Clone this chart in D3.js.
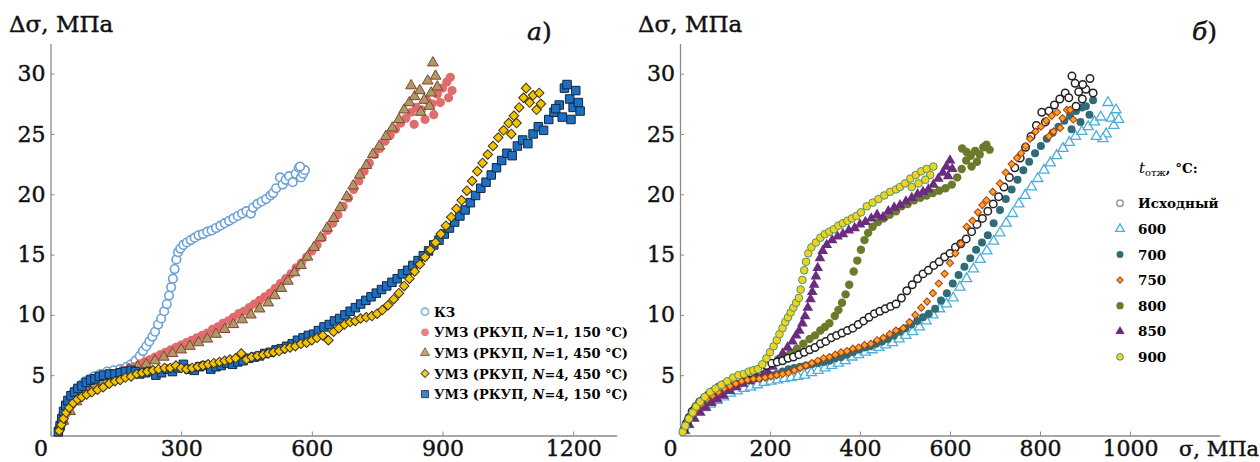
<!DOCTYPE html>
<html>
<head>
<meta charset="utf-8">
<script src="https://cdn.jsdelivr.net/npm/d3@7"></script>
<style>
  body { margin: 0; background: #fff; }
  svg { display: block; font-family: "DejaVu Serif", serif; }
  .heavy { stroke: #111; stroke-width: 0.45px; fill: #111; }
</style>
</head>
<body>
<svg id="chart" width="1260" height="462"></svg>
<script>
// ---- panel a) data: [sigma, delta sigma] ----
var kz = [[20,0.6],[25,1.2],[30,1.8],[35,2.3],[40,2.7],[45,3.1],[50,3.4],[60,3.8],[70,4.2],[80,4.5],[90,4.7],[100,4.9],[115,5.1],[130,5.3],[145,5.4],[160,5.5],[175,5.7],[185,5.9],[195,6.2],[205,6.6],[212,7.0],[220,7.4],[227,7.8],[234,8.2],[240,8.6],[247,9.2],[254,9.7],[261,10.3],[267,10.9],[272,11.6],[277,12.3],[281,13.0],[285,13.8],[289,14.6],[293,15.2],[298,15.5],[305,15.8],[313,16.0],[322,16.2],[331,16.4],[340,16.6],[350,16.7],[360,16.9],[370,17.0],[380,17.2],[390,17.4],[400,17.6],[410,17.8],[420,18.0],[430,18.2],[440,18.4],[450,18.6],[460,18.4],[465,18.9],[475,19.2],[485,19.4],[495,19.6],[505,19.9],[511,20.1],[518,20.5],[527,21.4],[533,20.8],[540,21.2],[548,21.5],[556,21.0],[563,21.7],[570,22.2],[575,21.4],[580,21.7],[584,22.0],[573,22.3]];
var umz1_150 = [[20,0.4],[25,0.9],[30,1.3],[36,1.8],[43,2.2],[50,2.6],[58,3.0],[67,3.3],[76,3.6],[86,3.9],[96,4.2],[107,4.4],[118,4.6],[130,4.8],[142,5.0],[155,5.2],[168,5.4],[180,5.5],[192,5.7],[204,5.9],[216,6.1],[228,6.3],[240,6.5],[252,6.7],[264,6.9],[276,7.1],[288,7.3],[300,7.5],[312,7.7],[324,7.9],[336,8.1],[348,8.3],[360,8.5],[372,8.8],[384,9.0],[396,9.3],[408,9.5],[420,9.8],[432,10.1],[444,10.3],[456,10.6],[468,10.9],[480,11.2],[492,11.5],[504,11.8],[516,12.2],[528,12.6],[540,13.0],[552,13.4],[564,13.9],[576,14.3],[588,14.8],[600,15.3],[612,15.8],[624,16.4],[636,17.0],[648,17.6],[660,18.3],[672,19.0],[684,19.7],[696,20.4],[708,21.1],[720,21.9],[732,22.6],[744,23.3],[756,23.8],[768,24.4],[780,24.9],[792,25.4],[804,25.9],[816,26.3],[828,26.8],[840,27.2],[852,27.0],[864,27.8],[876,27.5],[888,28.3],[900,28.8],[910,29.3],[918,29.7],[922,28.6],[914,28.0],[895,27.6],[880,26.6],[860,26.2],[835,25.8]];
var umz1_450 = [[30,1.2],[45,2.0],[60,2.8],[80,3.5],[100,4.1],[120,4.5],[140,4.9],[160,5.2],[180,5.5],[200,5.7],[220,5.9],[240,6.2],[260,6.5],[280,6.8],[300,7.1],[320,7.4],[340,7.7],[360,8.0],[380,8.4],[400,8.8],[420,9.2],[440,9.6],[460,10.0],[480,10.5],[500,11.0],[515,11.6],[530,12.2],[545,12.8],[560,13.5],[575,14.1],[590,14.8],[605,15.6],[620,16.4],[635,17.2],[650,18.0],[665,18.9],[680,19.8],[695,20.7],[710,21.6],[725,22.4],[740,23.3],[755,24.0],[770,24.8],[785,25.5],[800,26.2],[812,27.0],[824,27.6],[828,29.0],[836,28.1],[848,28.6],[858,27.8],[866,29.4],[874,28.4],[878,30.9],[884,29.8],[888,28.9],[870,27.3],[850,26.8]];
var umz4_450 = [[20,0.4],[25,0.9],[30,1.4],[36,1.9],[43,2.3],[52,2.7],[62,3.0],[72,3.2],[83,3.4],[95,3.6],[108,3.8],[121,4.0],[135,4.3],[148,4.5],[160,4.6],[172,4.8],[185,4.9],[198,5.1],[210,5.2],[222,5.3],[235,5.4],[248,5.5],[262,5.6],[275,5.6],[288,5.8],[300,5.6],[312,5.5],[325,5.6],[338,5.7],[350,5.8],[362,5.9],[375,6.0],[388,6.1],[400,6.2],[412,6.3],[425,6.4],[438,6.8],[450,6.3],[462,6.5],[475,6.6],[488,6.7],[500,6.8],[512,6.9],[525,7.0],[538,7.2],[550,7.3],[562,7.4],[575,7.6],[588,7.7],[600,7.9],[612,8.1],[625,8.3],[638,7.9],[650,8.6],[662,8.9],[675,9.2],[688,9.4],[700,9.5],[712,9.7],[725,9.8],[738,9.9],[750,10.1],[762,10.4],[775,10.8],[788,11.3],[800,11.8],[812,12.4],[824,13.0],[836,13.6],[848,14.2],[860,14.8],[872,15.4],[884,16.0],[896,16.7],[908,17.4],[920,18.1],[932,18.8],[944,19.5],[956,20.3],[968,21.1],[980,21.9],[992,22.6],[1004,23.3],[1016,24.0],[1028,24.7],[1040,25.3],[1052,25.9],[1064,26.5],[1076,27.2],[1086,28.0],[1092,28.8],[1100,27.6],[1108,28.2],[1116,27.0],[1122,28.4],[1126,27.5],[1070,25.9],[1058,25.0]];
var umz4_150 = [[18,0.3],[22,0.8],[26,1.4],[30,2.0],[35,2.5],[40,2.9],[47,3.3],[55,3.6],[63,3.9],[72,4.1],[82,4.4],[92,4.6],[102,4.7],[112,4.9],[122,5.0],[135,5.1],[148,5.1],[160,5.2],[172,5.3],[185,5.4],[195,5.3],[205,5.1],[218,5.2],[230,5.3],[242,5.0],[255,5.2],[268,5.5],[280,5.3],[292,5.6],[305,5.9],[318,5.5],[330,5.4],[342,5.7],[355,5.8],[368,5.5],[380,5.7],[392,5.8],[405,6.0],[418,5.9],[430,6.1],[442,6.2],[455,6.4],[468,6.5],[480,6.6],[492,6.8],[505,6.9],[518,7.1],[530,7.2],[542,7.4],[555,7.6],[567,7.9],[580,8.1],[592,8.3],[604,8.4],[615,8.7],[628,9.0],[640,9.2],[652,9.5],[664,9.7],[676,10.0],[688,10.3],[700,10.6],[712,10.9],[724,11.2],[736,11.5],[748,11.8],[760,12.1],[772,12.4],[784,12.7],[796,13.0],[808,13.4],[820,13.7],[832,14.1],[844,14.5],[856,14.9],[868,15.3],[880,15.8],[892,16.2],[904,16.7],[916,17.2],[928,17.7],[940,18.2],[952,18.7],[964,19.3],[976,19.9],[988,20.5],[1000,21.0],[1012,21.6],[1024,22.2],[1036,22.8],[1048,23.4],[1060,23.2],[1072,24.0],[1084,24.5],[1096,24.2],[1108,25.0],[1120,25.6],[1132,25.3],[1144,26.2],[1156,26.8],[1168,27.4],[1180,28.8],[1186,29.1],[1192,27.9],[1200,27.2],[1206,28.6],[1212,27.6],[1216,26.9],[1175,26.4],[1160,27.1],[1195,26.2]];

// ---- panel б) data ----
var ref = [[8,0.4],[14,1.0],[20,1.5],[27,2.0],[35,2.4],[44,2.8],[54,3.1],[64,3.4],[75,3.7],[86,4.0],[97,4.2],[108,4.4],[120,4.6],[132,4.8],[144,5.0],[156,5.2],[168,5.4],[180,5.6],[192,5.8],[204,6.0],[216,6.1],[228,6.2],[240,6.4],[252,6.5],[264,6.7],[276,6.9],[288,7.1],[300,7.3],[312,7.6],[324,7.8],[336,8.1],[348,8.3],[360,8.5],[372,8.7],[384,8.9],[396,9.2],[408,9.5],[420,9.8],[432,10.1],[444,10.3],[456,10.5],[468,10.7],[480,10.9],[492,11.4],[504,12.0],[516,12.5],[528,13.0],[540,13.4],[552,13.7],[564,14.1],[576,14.4],[588,14.8],[600,15.1],[612,15.6],[624,15.9],[636,16.3],[648,16.9],[660,17.5],[672,18.0],[684,18.6],[696,19.2],[708,19.8],[720,20.6],[732,21.4],[744,22.2],[756,23.0],[768,23.9],[780,24.8],[792,25.7],[804,26.8],[812,26.0],[820,26.9],[832,27.4],[844,27.9],[856,28.4],[864,28.0],[871,29.8],[878,29.2],[886,28.5],[894,27.9],[902,28.7],[911,29.6],[918,28.4],[895,29.1],[880,27.3]];
var t600 = [[10,0.4],[18,0.9],[28,1.5],[40,2.0],[53,2.3],[67,2.6],[82,2.9],[97,3.2],[112,3.5],[127,3.7],[142,3.9],[157,4.0],[172,4.2],[187,4.4],[202,4.5],[217,4.6],[232,4.7],[247,4.8],[262,4.9],[277,5.0],[292,5.2],[307,5.4],[322,5.6],[337,5.8],[352,6.0],[367,6.2],[382,6.5],[397,6.7],[412,6.9],[427,7.1],[442,7.3],[457,7.5],[472,7.7],[487,8.0],[502,8.3],[517,8.6],[532,9.0],[547,9.5],[562,10.0],[577,10.5],[592,10.9],[607,11.4],[622,12.3],[637,13.0],[652,13.8],[667,14.6],[682,15.3],[697,16.1],[711,16.8],[725,17.6],[739,18.4],[753,19.2],[767,19.9],[781,20.6],[795,21.3],[809,22.0],[823,22.6],[837,23.2],[851,23.8],[865,24.3],[879,24.8],[893,25.2],[907,25.6],[921,26.0],[935,26.4],[947,25.0],[951,27.6],[958,26.3],[964,25.7],[969,27.0],[940,24.6],[925,24.8],[975,26.2]];
var t700 = [[10,0.5],[18,1.1],[27,1.6],[37,2.1],[48,2.5],[60,2.9],[72,3.2],[85,3.5],[98,3.8],[111,4.0],[124,4.2],[137,4.4],[150,4.6],[163,4.7],[176,4.8],[189,4.9],[202,5.0],[215,5.1],[228,5.3],[241,5.5],[254,5.6],[267,5.7],[280,5.8],[293,5.9],[306,6.0],[319,6.1],[332,6.2],[345,6.4],[358,6.5],[371,6.7],[384,6.9],[397,7.1],[410,7.3],[423,7.4],[436,7.6],[449,7.8],[462,8.0],[475,8.3],[488,8.6],[501,8.9],[514,9.2],[527,9.5],[540,9.8],[553,10.1],[567,10.5],[580,11.2],[593,11.8],[606,12.6],[619,13.3],[632,14.0],[645,14.7],[658,15.4],[671,16.0],[684,16.6],[697,17.6],[711,18.7],[724,19.6],[737,20.4],[750,21.2],[763,22.0],[776,22.7],[789,23.4],[802,24.0],[815,24.6],[828,25.1],[841,25.6],[854,26.1],[867,26.5],[880,26.9],[893,27.2],[902,27.3],[910,26.6],[918,27.8],[890,26.0],[870,25.4]];
var t750 = [[10,0.6],[18,1.2],[27,1.7],[37,2.2],[48,2.6],[60,3.0],[72,3.3],[85,3.6],[98,3.9],[111,4.1],[124,4.3],[137,4.5],[150,4.6],[163,4.7],[176,4.7],[189,4.8],[202,4.9],[215,5.0],[228,5.1],[241,5.2],[254,5.4],[267,5.6],[280,5.8],[293,6.0],[306,6.2],[319,6.4],[332,6.5],[345,6.7],[358,6.9],[371,7.0],[384,7.2],[397,7.3],[410,7.5],[424,7.6],[438,7.9],[452,8.1],[466,8.4],[480,8.7],[496,8.9],[510,9.4],[523,10.0],[536,10.6],[549,11.1],[562,11.8],[575,12.6],[588,13.4],[600,14.3],[612,15.1],[624,15.9],[637,17.3],[650,17.8],[662,18.5],[672,19.1],[681,19.5],[695,20.2],[711,20.9],[724,21.8],[737,22.5],[749,23.0],[758,23.4],[768,24.0],[778,24.6],[790,25.2],[802,25.6],[814,26.1],[826,26.5],[838,26.8],[850,26.3],[860,27.0],[867,27.0],[874,26.2],[845,25.5],[830,25.2],[820,24.8]];
var t800 = [[10,0.6],[18,1.3],[28,1.9],[40,2.4],[52,2.8],[65,3.2],[78,3.5],[92,3.8],[106,4.1],[120,4.4],[134,4.7],[148,5.0],[162,5.3],[176,5.5],[190,5.8],[204,6.0],[218,6.3],[232,6.6],[246,6.9],[260,7.2],[274,7.6],[288,8.0],[300,8.3],[312,8.7],[322,9.0],[332,9.3],[344,9.9],[352,10.4],[360,11.0],[368,11.7],[376,12.5],[386,13.6],[394,14.5],[402,15.4],[410,16.2],[418,16.8],[428,17.3],[440,17.7],[452,18.0],[466,18.3],[480,18.6],[492,19.0],[506,19.2],[520,19.5],[534,19.7],[548,19.9],[562,20.1],[576,20.3],[590,20.5],[604,20.8],[616,21.4],[626,22.1],[636,22.8],[646,23.2],[656,23.6],[666,23.3],[674,23.9],[681,24.1],[688,23.7],[660,22.7],[648,22.3],[627,23.8],[637,23.5]];
var t850 = [[10,0.4],[20,0.9],[32,1.4],[45,1.9],[58,2.3],[70,2.7],[83,3.0],[97,3.3],[111,3.7],[125,4.0],[140,4.3],[155,4.5],[170,4.7],[183,4.9],[195,5.3],[206,5.7],[217,6.2],[228,6.8],[239,7.3],[250,7.8],[258,8.3],[265,8.7],[272,9.3],[278,9.9],[284,10.6],[290,11.3],[294,11.9],[298,12.5],[302,13.2],[306,13.9],[311,14.7],[317,15.3],[326,15.8],[338,16.2],[350,16.5],[362,16.7],[375,17.0],[388,17.2],[400,17.5],[412,17.7],[425,18.0],[438,18.3],[451,18.1],[463,18.6],[476,18.9],[489,19.1],[502,19.4],[515,19.7],[528,20.0],[540,20.2],[552,20.4],[563,20.8],[574,21.3],[584,21.8],[592,22.3],[600,22.8],[605,22.1],[596,21.5]];
var t900 = [[6,0.3],[12,0.8],[20,1.4],[28,1.9],[36,2.4],[45,2.8],[55,3.2],[67,3.6],[79,3.9],[92,4.2],[105,4.5],[118,4.8],[130,5.0],[142,5.1],[153,5.3],[163,5.4],[173,5.5],[183,5.9],[192,6.4],[200,6.9],[208,7.4],[215,7.9],[221,8.4],[228,8.9],[234,9.4],[240,9.8],[246,10.2],[252,10.6],[258,11.0],[264,11.4],[268,12.1],[272,12.9],[276,13.7],[280,14.4],[285,15.1],[292,15.6],[302,16.0],[312,16.4],[322,16.7],[332,16.9],[342,17.1],[352,17.4],[362,17.6],[372,17.8],[382,18.0],[392,18.2],[402,18.5],[415,19.0],[428,19.3],[441,19.6],[454,19.9],[467,20.2],[480,20.4],[489,20.6],[500,20.9],[512,21.3],[524,21.6],[536,21.9],[548,22.1],[556,21.6],[563,22.3],[545,21.2],[530,20.9],[515,20.6]];

var yTicks = [5, 10, 15, 20, 25, 30];
var xTicksA = [0, 300, 600, 900, 1200];
var xTicksB = [0, 200, 400, 600, 800, 1000];

// series styling (rot: rotate the symbol, used for diamonds drawn as squares)
var seriesA = [
  { label: ["КЗ"], data: kz, shape: d3.symbolCircle, size: 58, rot: 0, fill: "#fff", stroke: "#6aa0d8", sw: 1.6 },
  { label: ["УМЗ (РКУП, ", "N", "=1, 150 °C)"], data: umz1_150, shape: d3.symbolCircle, size: 66, rot: 0, fill: "#e06c6c", stroke: "none", sw: 0 },
  { label: ["УМЗ (РКУП, ", "N", "=1, 450 °C)"], data: umz1_450, shape: d3.symbolTriangle, size: 50, rot: 0, fill: "#a99c63", stroke: "#8a3f34", sw: 1 },
  { label: ["УМЗ (РКУП, ", "N", "=4, 450 °C)"], data: umz4_450, shape: d3.symbolSquare, size: 46, rot: 45, fill: "#f4c300", stroke: "#3b3118", sw: 1 },
  { label: ["УМЗ (РКУП, ", "N", "=4, 150 °C)"], data: umz4_150, shape: d3.symbolSquare, size: 72, rot: 0, fill: "#1c6fc2", stroke: "#14263e", sw: 1 }
];
var drawOrderA = [0, 1, 2, 4, 3];

var seriesB = [
  { label: "Исходный", data: ref, shape: d3.symbolCircle, size: 44, rot: 0, fill: "#fff", stroke: "#222", sw: 1.5 },
  { label: "600", data: t600, shape: d3.symbolTriangle, size: 44, rot: 0, fill: "#fff", stroke: "#4aaed9", sw: 1.3 },
  { label: "700", data: t700, shape: d3.symbolCircle, size: 50, rot: 0, fill: "#2f6c77", stroke: "none", sw: 0 },
  { label: "750", data: t750, shape: d3.symbolSquare, size: 26, rot: 45, fill: "#f6a623", stroke: "#b13a12", sw: 1 },
  { label: "800", data: t800, shape: d3.symbolCircle, size: 56, rot: 0, fill: "#6b7a2b", stroke: "none", sw: 0 },
  { label: "850", data: t850, shape: d3.symbolTriangle, size: 50, rot: 0, fill: "#6a2c7e", stroke: "none", sw: 0 },
  { label: "900", data: t900, shape: d3.symbolCircle, size: 46, rot: 0, fill: "#f2d31c", stroke: "#4c9278", sw: 1 }
];
var drawOrderB = [1, 2, 4, 5, 0, 3, 6];

var svg = d3.select("#chart");

var y = d3.scaleLinear().domain([0, 32.5]).range([435.5, 43.5]);
var xA = d3.scaleLinear().domain([0, 1300]).range([50.5, 616.7]);
var xB = d3.scaleLinear().domain([0, 1200]).range([680, 1220]);

function drawAxes(x, xTicks, x0) {
  var g = svg.append("g");
  g.append("g")
    .attr("transform", "translate(" + x0 + ",0)")
    .call(d3.axisLeft(y).tickValues(yTicks).tickSize(-4).tickSizeOuter(0).tickPadding(5));
  var xa = g.append("g")
    .attr("transform", "translate(0,435.5)")
    .call(d3.axisBottom(x).tickValues(xTicks).tickFormat(d3.format("d"))
      .tickSize(-4).tickSizeOuter(0).tickPadding(5));
  g.selectAll(".domain").attr("stroke", "#8a8a8a").attr("stroke-width", 1.3);
  g.selectAll(".tick line").attr("stroke", "#8a8a8a");
  g.selectAll(".tick text")
    .attr("class", "heavy")
    .style("font-family", "DejaVu Serif")
    .style("font-size", "22px");
  // the origin label sits a bit left of the corner
  xa.selectAll(".tick text").filter(function(d) { return d === 0; }).attr("dx", -10);
}

function drawSeries(list, order, x) {
  order.forEach(function(i) {
    var s = list[i];
    var sym = d3.symbol().type(s.shape).size(s.size);
    svg.append("g").selectAll("path")
      .data(s.data)
      .enter().append("path")
      .attr("d", sym)
      .attr("transform", function(d) {
        return "translate(" + x(d[0]) + "," + y(d[1]) + ") rotate(" + s.rot + ")";
      })
      .attr("fill", s.fill)
      .attr("stroke", s.stroke)
      .attr("stroke-width", s.sw);
  });
}

drawAxes(xA, xTicksA, 50.5);
drawAxes(xB, xTicksB, 680);
drawSeries(seriesA, drawOrderA, xA);
drawSeries(seriesB, drawOrderB, xB);

// axis titles and panel letters
svg.append("text").attr("class", "heavy").attr("x", 9).attr("y", 32).style("font-size", "23px").text("Δσ, МПа");
svg.append("text").attr("class", "heavy").attr("x", 638).attr("y", 32).style("font-size", "23px").text("Δσ, МПа");
svg.append("text").attr("class", "heavy").attr("x", 1179).attr("y", 456).style("font-size", "21px").text("σ, МПа");

var la = svg.append("text").attr("class", "heavy").attr("x", 527).attr("y", 40).style("font-size", "25px");
la.append("tspan").style("font-style", "italic").text("а");
la.append("tspan").text(")");
var lb = svg.append("text").attr("class", "heavy").attr("x", 1192).attr("y", 40).style("font-size", "25px");
lb.append("tspan").style("font-style", "italic").text("б");
lb.append("tspan").text(")");

// legend a)
var legA = svg.append("g").selectAll("g")
  .data(seriesA)
  .enter().append("g")
  .attr("transform", function(d, i) { return "translate(425," + (311.7 + i * 20.6) + ")"; });
legA.append("path")
  .attr("d", function(d) { return d3.symbol().type(d.shape).size(d.size * 0.7)(); })
  .attr("transform", function(d) { return "rotate(" + d.rot + ")"; })
  .attr("fill", function(d) { return d.fill; })
  .attr("stroke", function(d) { return d.stroke; })
  .attr("stroke-width", function(d) { return d.sw; })
  .attr("opacity", 0.85);
var legAText = legA.append("text")
  .attr("x", 9).attr("y", 5)
  .style("font-size", "13px").style("font-weight", "bold");
legAText.each(function(d) {
  var t = d3.select(this);
  d.label.forEach(function(part, k) {
    t.append("tspan").style("font-style", k === 1 ? "italic" : "normal").text(part);
  });
});

// legend б)
var title = svg.append("text").attr("x", 1139).attr("y", 173).style("font-size", "13.5px").style("font-weight", "bold");
title.append("tspan").style("font-style", "italic").style("font-weight", "normal").style("font-size", "15px").text("t");
title.append("tspan").attr("dy", 3).style("font-size", "10px").style("font-weight", "normal").text("отж");
title.append("tspan").attr("dy", -3).text(", °C:");

var legB = svg.append("g").selectAll("g")
  .data(seriesB)
  .enter().append("g")
  .attr("transform", function(d, i) { return "translate(1120," + (203.3 + i * 25.6) + ")"; });
legB.append("path")
  .attr("d", function(d) { return d3.symbol().type(d.shape).size(d.size * 0.75)(); })
  .attr("transform", function(d) { return "rotate(" + d.rot + ")"; })
  .attr("fill", function(d) { return d.fill; })
  .attr("stroke", function(d) { return d.stroke === "#222" ? "#999" : d.stroke; })
  .attr("stroke-width", function(d) { return d.sw; });
legB.append("text")
  .attr("x", 18).attr("y", 5)
  .style("font-size", "13.5px").style("font-weight", "bold")
  .text(function(d) { return d.label; });
</script>
</body>
</html>
